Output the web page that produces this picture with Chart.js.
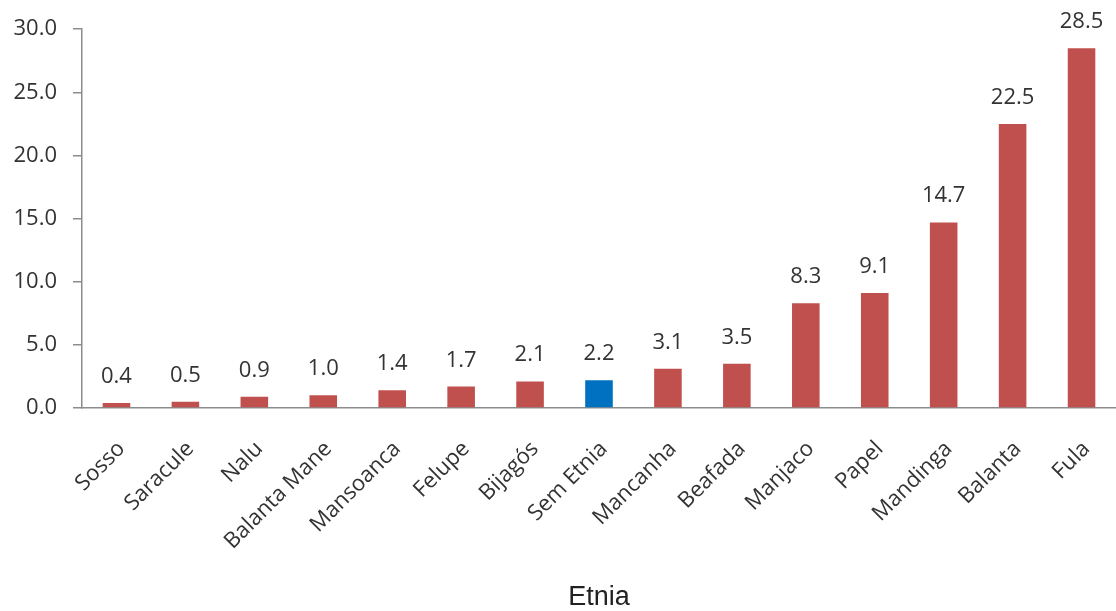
<!DOCTYPE html>
<html>
<head>
<meta charset="utf-8">
<script src="https://cdn.jsdelivr.net/npm/chart.js@4"></script>
<style>
  html, body { margin: 0; padding: 0; background: #fff; }
  #wrap { width: 1116px; height: 611px; }
</style>
</head>
<body>
<div id="wrap"><canvas id="myChart" width="1116" height="611"></canvas></div>
<script>
// categories and values
const etnias = ['Sosso', 'Saracule', 'Nalu', 'Balanta Mane', 'Mansoanca', 'Felupe', 'Bijagós',
                'Sem Etnia', 'Mancanha', 'Beafada', 'Manjaco', 'Papel', 'Mandinga', 'Balanta', 'Fula'];
const percent = [0.4, 0.5, 0.9, 1.0, 1.4, 1.7, 2.1, 2.2, 3.1, 3.5, 8.3, 9.1, 14.7, 22.5, 28.5];
const highlighted = ['Sem Etnia'];

const red = '#C0504D';
const blue = '#0070C0';
const textColor = '#333333';
const axisColor = '#8c8c8c';

// bar colours: the "Sem Etnia" one is blue
const barColors = etnias.map(function(e) {
    return highlighted.includes(e) ? blue : red;
});

// draws the value above each bar
const valueLabels = {
    id: 'valueLabels',
    afterDatasetsDraw(chart) {
        const ctx = chart.ctx;
        const meta = chart.getDatasetMeta(0);
        ctx.save();
        ctx.font = '22px "Open Sans"';
        ctx.fillStyle = textColor;
        ctx.textAlign = 'center';
        ctx.textBaseline = 'alphabetic';
        meta.data.forEach(function(bar, i) {
            ctx.fillText(percent[i].toFixed(1), bar.x, bar.y - 20);
        });
        ctx.restore();
    }
};

const ctx = document.getElementById('myChart').getContext('2d');
const chart = new Chart(ctx, {
    type: 'bar',
    data: {
        labels: etnias,
        datasets: [{
            data: percent,
            backgroundColor: barColors,
            borderWidth: 0,
            categoryPercentage: 1,
            barPercentage: 0.4
        }]
    },
    options: {
        responsive: false,
        animation: false,
        layout: { padding: { top: 25, right: 0, bottom: 0, left: 0 } },
        plugins: {
            legend: { display: false },
            tooltip: { enabled: false }
        },
        scales: {
            x: {
                grid: { display: false },
                border: { display: true, color: axisColor, width: 1.5 },
                ticks: {
                    color: textColor,
                    font: { family: '"Open Sans"', size: 22 },
                    minRotation: 45,
                    maxRotation: 45,
                    autoSkip: false,
                    padding: 20,
                    labelOffset: 5
                },
                title: {
                    display: true,
                    text: 'Etnia',
                    color: '#222',
                    font: { family: '"Liberation Sans", Arial', size: 27, lineHeight: 1 },
                    padding: { top: 0, bottom: 0 }
                },
                afterFit: function(scale) {
                    scale.height = 203;
                    // keep the plot running to the right edge
                    scale.paddingLeft = 0;
                    scale.paddingRight = 0;
                }
            },
            y: {
                min: 0,
                max: 30,
                grid: {
                    drawOnChartArea: false,
                    drawTicks: true,
                    tickLength: 9,
                    color: axisColor,
                    lineWidth: 1.5
                },
                border: { display: true, color: axisColor, width: 1.5 },
                ticks: {
                    stepSize: 5,
                    color: textColor,
                    font: { family: '"Open Sans"', size: 22 },
                    padding: 16,
                    callback: function(value) { return value.toFixed(1); }
                },
                afterFit: function(scale) { scale.width = 82; }
            }
        }
    },
    plugins: [valueLabels]
});
</script>
</body>
</html>
